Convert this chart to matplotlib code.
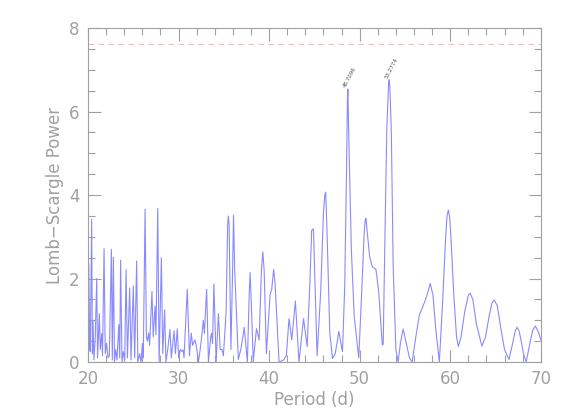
import matplotlib
matplotlib.use("Agg")
import matplotlib.pyplot as plt
from matplotlib.ticker import MultipleLocator

# periodogram: period (d) and power
period = [
    20.00, 20.08, 20.18, 20.25, 20.40, 20.48, 20.55, 20.65, 20.80, 20.96,
    21.05, 21.25, 21.35, 21.50, 21.60, 21.77, 21.90, 22.05, 22.20, 22.35,
    22.58, 22.68, 22.80, 22.92, 23.05, 23.20, 23.40, 23.50, 23.60, 23.75,
    23.90, 24.05, 24.20, 24.35, 24.60, 24.75, 25.00, 25.15, 25.37, 25.50,
    25.70, 25.85, 26.00, 26.10, 26.30, 26.45, 26.55, 26.70, 26.80, 27.06,
    27.20, 27.40, 27.50, 27.70, 27.85, 28.10, 28.25, 28.46, 28.60, 28.80,
    29.05, 29.20, 29.50, 29.65, 29.86, 30.00, 30.20, 30.35, 30.50, 30.60,
    30.96, 31.20, 31.40, 31.55, 31.80, 31.95, 32.20, 32.50, 32.73, 32.85,
    33.10, 33.30, 33.55, 33.65, 33.75, 33.90, 34.15, 34.40, 34.60, 34.80,
    34.95, 35.25, 35.42, 35.50, 35.58, 35.78, 35.95, 36.07, 36.20, 36.60,
    36.90, 37.25, 37.60, 37.80, 37.90, 38.00, 38.25, 38.60, 38.90, 39.15,
    39.30, 39.45, 39.70, 40.10, 40.30, 40.50, 40.65, 41.10, 41.60, 41.90,
    42.20, 42.50, 42.90, 43.30, 43.80, 44.20, 44.50, 44.70, 44.90, 45.05,
    45.30, 45.70, 46.00, 46.15, 46.25, 46.40, 46.70, 47.00, 47.30, 47.70,
    48.10, 48.35, 48.55, 48.65, 48.70, 48.80, 49.08, 49.40, 49.90, 50.25,
    50.50, 50.62, 50.70, 50.80, 51.10, 51.40, 51.80, 52.10, 52.50, 52.60,
    52.80, 53.00, 53.20, 53.27, 53.35, 53.50, 53.70, 54.00, 54.25, 54.50,
    54.80, 55.10, 55.50, 55.80, 56.20, 56.60, 57.20, 57.50, 57.80, 58.10,
    58.40, 58.80, 59.20, 59.50, 59.65, 59.80, 59.95, 60.10, 60.40, 60.70,
    60.90, 61.20, 61.60, 62.00, 62.20, 62.50, 62.90, 63.50, 63.90, 64.30,
    64.60, 64.85, 65.20, 65.60, 66.00, 66.50, 66.90, 67.20, 67.40, 67.60,
    67.80, 68.10, 68.40, 68.80, 69.10, 69.40, 69.70, 70.00,
]
power = [
    0.90, 2.36, 0.30, 0.25, 3.42, 0.20, 1.00, 0.05, 0.60, 2.00,
    0.10, 1.16, 0.30, 0.68, 0.15, 2.72, 0.20, 0.45, 0.10, 0.15,
    2.70, 0.05, 2.51, 0.00, 0.30, 0.05, 0.90, 0.10, 2.44, 0.00,
    0.25, 0.05, 2.22, 0.10, 1.77, 0.05, 1.82, 0.10, 2.42, 0.00,
    0.20, 0.00, 0.44, 0.10, 3.66, 0.60, 0.50, 0.70, 0.40, 1.69,
    0.60, 1.34, 0.65, 3.68, 0.00, 2.50, 0.20, 1.25, 0.00, 0.30,
    0.78, 0.10, 0.75, 0.20, 0.80, 0.10, 0.30, 0.25, 0.29, 0.10,
    1.74, 0.15, 0.69, 0.40, 0.53, 0.40, 0.00, 0.50, 1.00, 0.69,
    1.74, 0.00, 0.60, 0.69, 0.44, 1.87, 0.00, 1.16, 0.30, 0.30,
    0.15, 1.20, 3.30, 3.50, 3.30, 0.30, 2.00, 3.52, 2.20, 0.06,
    0.33, 0.83, 0.00, 1.60, 2.14, 1.60, 0.00, 0.80, 0.53, 2.20,
    2.64, 2.20, 0.20, 1.60, 1.76, 2.22, 1.90, 0.00, 0.05, 0.15,
    1.04, 0.53, 1.46, 0.00, 1.04, 0.37, 1.90, 3.15, 3.19, 2.00,
    0.15, 1.70, 3.57, 4.00, 4.07, 3.10, 0.70, 0.08, 0.20, 0.73,
    0.25, 1.80, 4.60, 6.30, 6.54, 5.40, 2.70, 1.10, 0.10, 1.80,
    3.10, 3.40, 3.44, 3.20, 2.53, 2.28, 2.22, 1.70, 0.41, 0.42,
    3.10, 5.60, 6.70, 6.76, 6.50, 5.50, 2.30, 0.30, 0.00, 0.45,
    0.79, 0.50, 0.10, 0.00, 0.60, 1.13, 1.45, 1.65, 1.88, 1.60,
    0.80, 0.00, 1.60, 3.00, 3.50, 3.64, 3.45, 2.90, 1.60, 0.60,
    0.37, 0.60, 1.20, 1.60, 1.65, 1.50, 0.90, 0.38, 0.60, 1.10,
    1.40, 1.49, 1.35, 0.80, 0.30, 0.06, 0.45, 0.75, 0.83, 0.75,
    0.55, 0.20, 0.00, 0.45, 0.75, 0.86, 0.75, 0.53,
]

peak_periods = [48.70, 53.27]
peak_powers = [6.54, 6.76]
peak_labels = ["48.7096", "53.2774"]
threshold = 7.62

grey = "#a0a0a0"
plt.rcParams["font.family"] = ["DejaVu Sans"]

fig = plt.figure(figsize=(5.68, 4.19), dpi=100)
ax = fig.add_axes([0.155, 0.136, 0.797, 0.797])

ax.plot(period, power, color="#8a8aff", lw=0.8)
ax.axhline(threshold, color="#ffb8b8", lw=0.8, ls=(0, (5, 4)))

for p, v, lab in zip(peak_periods, peak_powers, peak_labels):
    ax.text(p - 0.1, v + 0.02, lab, rotation=62, fontsize=4, color="#555555",
            ha="left", va="bottom", rotation_mode="anchor")

ax.set_xlim(20, 70)
ax.set_ylim(0, 8)
ax.xaxis.set_major_locator(MultipleLocator(10))
ax.xaxis.set_minor_locator(MultipleLocator(2))
ax.yaxis.set_major_locator(MultipleLocator(2))
ax.yaxis.set_minor_locator(MultipleLocator(0.5))
ax.tick_params(which="both", direction="in", top=True, right=True,
               color=grey, labelcolor=grey, labelsize=12, width=0.8)
ax.tick_params(which="major", length=9, pad=6)
ax.tick_params(which="minor", length=5)
for s in ax.spines.values():
    s.set_color(grey)
    s.set_linewidth(0.8)

ax.set_xlabel("Period (d)", color=grey, fontsize=12, labelpad=2)
ax.set_ylabel("Lomb\u2212Scargle Power", color=grey, fontsize=12, labelpad=4)

fig.savefig("out.png", dpi=100, facecolor="white")
